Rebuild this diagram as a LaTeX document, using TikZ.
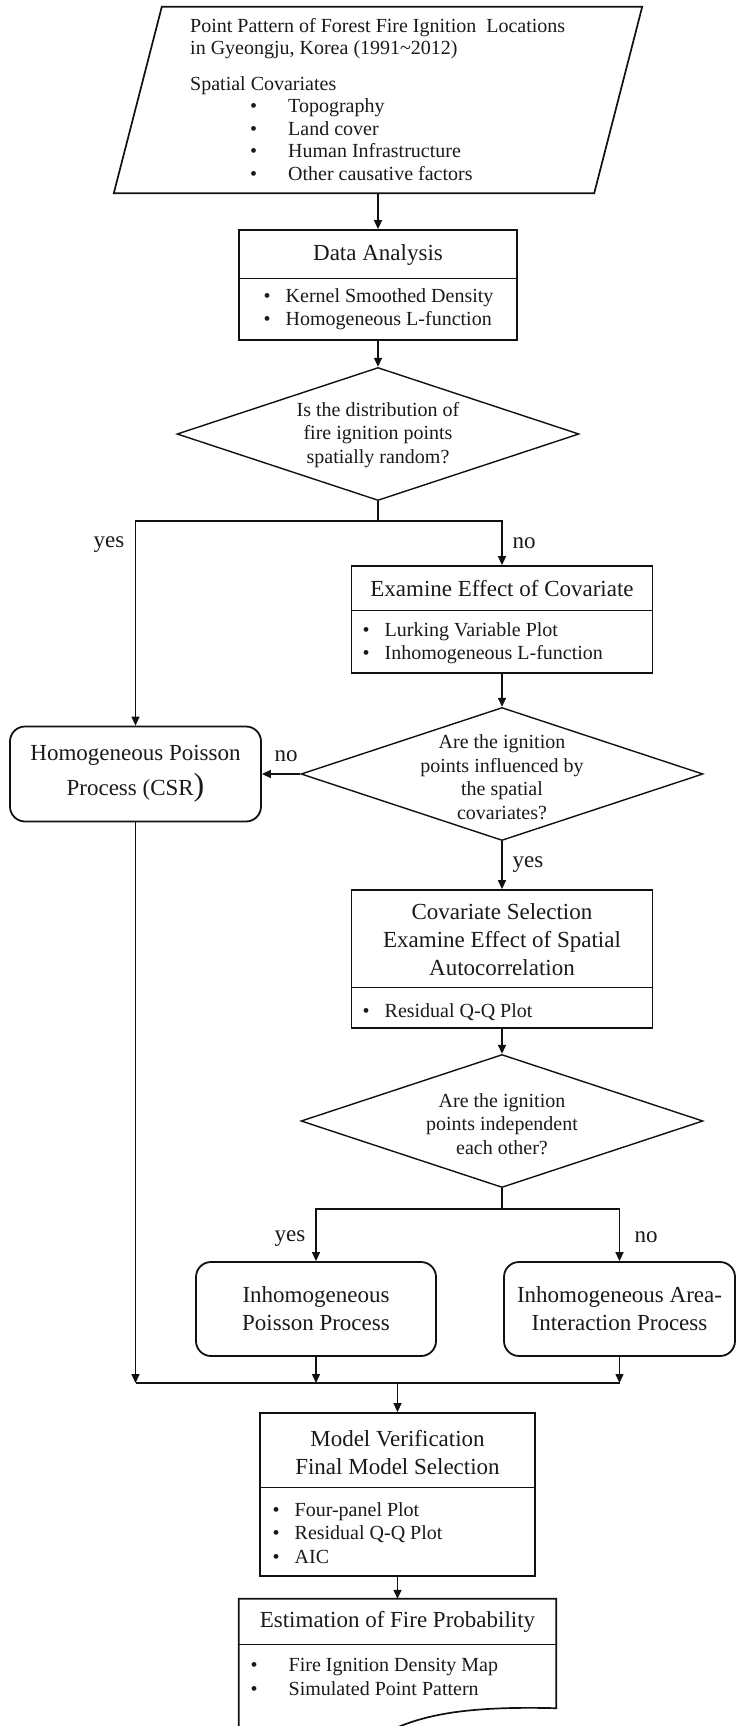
\documentclass[tikz,border=0pt]{standalone}
\usepackage{fontspec}
\setmainfont{Liberation Serif}
\usetikzlibrary{positioning,arrows.meta,shapes.geometric,calc}
\definecolor{fcline}{HTML}{111111}
\definecolor{fctext}{HTML}{1A1A1A}
\newcommand{\fcbig}{\fontsize{23}{28}\selectfont}
\newcommand{\fcwide}{\fontsize{23}{35}\selectfont}
\newcommand{\fcsmall}{\fontsize{20}{23.5}\selectfont}
\newcommand{\fcnote}{\fontsize{20}{22.5}\selectfont}
\newcommand{\dotitem}{\makebox[22pt][l]{\textbullet}}
\newcommand{\tabitem}{\makebox[38pt][l]{\textbullet}}
\tikzset{fcbox/.style={rectangle, draw=fcline, line width=1.8pt, inner sep=0pt}}
\tikzset{fcround/.style={fcbox, rounded corners=15pt, align=center, font=\fcbig, text=fctext}}
\tikzset{fcinput/.style={rectangle, inner sep=0pt}}
\tikzset{fcdecision/.style={diamond, draw=fcline, line width=1.4pt, inner sep=0pt, minimum width=402pt, minimum height=133pt}}
\tikzset{fctitle/.style={align=center, font=\fcbig, text=fctext, inner sep=0pt}}
\tikzset{fclist/.style={align=left, anchor=west, font=\fcsmall, text=fctext, inner sep=0pt}}
\tikzset{fcquery/.style={align=center, font=\fcsmall, text=fctext, inner sep=0pt}}
\tikzset{fcflow/.style={-{Triangle[length=9pt, width=8pt]}, draw=fcline, line width=1.4pt}}
\tikzset{fcjoin/.style={draw=fcline, line width=1.4pt}}
\tikzset{fcrule/.style={draw=fcline, line width=1.1pt}}
\tikzset{fcoutline/.style={draw=fcline, line width=1.7pt}}
\tikzset{fclabel/.style={font=\fcbig, text=fctext, inner sep=0pt}}

\begin{document}
\begin{tikzpicture}[x=1pt, y=-1pt]
  \useasboundingbox (0,0) rectangle (737,1726);
  \fill[white] (0,0) rectangle (737,1726);
  \clip (0,0) rectangle (737,1726);

  \node[fcinput, minimum width=480pt, minimum height=186pt] (input) at (378,100) {};
  \node[align=left, anchor=north west, font=\fcnote, text=fctext, inner sep=0pt] (inputtxt) at (190,18) {Point Pattern of Forest Fire Ignition\ \ Locations\\in Gyeongju, Korea (1991\textasciitilde2012)\\[13pt]Spatial Covariates\\\hspace*{60pt}\tabitem Topography\\\hspace*{60pt}\tabitem Land cover\\\hspace*{60pt}\tabitem Human Infrastructure\\\hspace*{60pt}\tabitem Other causative factors};

  \node[fcbox, minimum width=278pt, minimum height=110pt] (da) at (378,285) {};
  \node[fctitle] (datitle) at (378,255) {Data Analysis};
  \node[fclist] (dalist) at (263.5,309) {\dotitem Kernel Smoothed Density\\\dotitem Homogeneous L-function};

  \node[fcdecision] (q1) at (378,434) {};
  \node[fcquery] (q1txt) at (378,435) {Is the distribution of\\fire ignition points\\spatially random?};
  \coordinate (split1) at (378,521);

  \node[fcround, minimum width=251pt, minimum height=95pt, font=\fcwide] (hpp) at (135.5,774) {Homogeneous Poisson\\Process (CSR{\fontsize{32}{35}\selectfont )}};

  \node[fcbox, minimum width=301pt, minimum height=107pt] (exam) at (502,619.5) {};
  \node[fctitle] (examtitle) at (502,589) {Examine Effect of Covariate};
  \node[fclist] (examlist) at (362.5,643) {\dotitem Lurking Variable Plot\\\dotitem Inhomogeneous L-function};

  \node[fcdecision] (q2) at (502,774) {};
  \node[fcquery] (q2txt) at (502,777) {Are the ignition\\points influenced by\\the spatial\\covariates?};

  \node[fcbox, minimum width=301pt, minimum height=138pt] (cov) at (502,959) {};
  \node[fctitle] (covtitle) at (502,940) {Covariate Selection\\Examine Effect of Spatial\\Autocorrelation};
  \node[fclist] (covlist) at (362.5,1012) {\dotitem Residual Q-Q Plot};

  \node[fcdecision] (q3) at (502,1121) {};
  \node[fcquery] (q3txt) at (502,1124) {Are the ignition\\points independent\\each other?};
  \coordinate (split3) at (502,1209);

  \node[fcround, minimum width=240pt, minimum height=94pt] (ipp) at (316,1309) {Inhomogeneous\\Poisson Process};
  \node[fcround, minimum width=231pt, minimum height=94pt] (iaip) at (619.5,1309) {Inhomogeneous Area-\\Interaction Process};
  \coordinate (join) at (397.5,1383);

  \node[fcbox, minimum width=275pt, minimum height=163pt] (mv) at (397.5,1494.5) {};
  \node[fctitle] (mvtitle) at (397.5,1452) {Model Verification\\Final Model Selection};
  \node[fclist] (mvlist) at (272.5,1533) {\dotitem Four-panel Plot\\\dotitem Residual Q-Q Plot\\\dotitem AIC};

  \node[minimum width=317pt, minimum height=109pt, inner sep=0pt] (efp) at (397.5,1653.5) {};
  \node[fctitle] (efptitle) at (397.5,1622) {Estimation of Fire Probability};
  \node[fclist] (efplist) at (250.5,1677) {\tabitem Fire Ignition Density Map\\\tabitem Simulated Point Pattern};

  \draw[fcoutline] ($(input.south west)+(-24,0)$) -- ($(input.north west)+(24,0)$) -- ($(input.north east)+(24,0)$) -- ($(input.south east)+(-24,0)$) -- cycle;
  \draw[fcrule] ($(da.north west)+(0,49)$) -- ($(da.north east)+(0,49)$);
  \draw[fcrule] ($(exam.north west)+(0,45)$) -- ($(exam.north east)+(0,45)$);
  \draw[fcrule] ($(cov.north west)+(0,98)$) -- ($(cov.north east)+(0,98)$);
  \draw[fcrule] ($(mv.north west)+(0,75)$) -- ($(mv.north east)+(0,75)$);
  \draw[fcrule] ($(efp.north west)+(0,46)$) -- ($(efp.north east)+(0,46)$);
  \draw[fcoutline] ($(efp.south west)+(0,50)$) -- (efp.north west) -- (efp.north east) -- (efp.south east) .. controls (470,1706) and (430,1714) .. (398,1727) .. controls (350,1745) and (290,1760) .. ($(efp.south west)+(0,50)$);

  \draw[fcflow] (input) -- (da);
  \draw[fcflow] (da) -- (q1);
  \draw[fcjoin] (q1) -- (split1);
  \draw[fcflow] (split1) -| (hpp.north);
  \draw[fcflow] (split1) -| (exam.north);
  \draw[fcflow] (exam) -- (q2);
  \draw[fcflow] (q2.west) -- (hpp.east);
  \draw[fcflow] (q2) -- (cov);
  \draw[fcflow] (cov) -- (q3);
  \draw[fcjoin] (q3) -- (split3);
  \draw[fcflow] (split3) -| (ipp.north);
  \draw[fcflow] (split3) -| (iaip.north);
  \draw[fcflow] (hpp.south) -- (hpp.south |- join);
  \draw[fcflow] (ipp.south) -- (ipp.south |- join);
  \draw[fcflow] (iaip.south) -- (iaip.south |- join);
  \draw[fcjoin] (hpp.south |- join) -- (iaip.south |- join);
  \draw[fcflow] (join) -- (mv);
  \draw[fcflow] (mv) -- (efp);

  \node[fclabel] (yesq1) at (109,545) {yes};
  \node[fclabel] (noq1) at (524,543) {no};
  \node[fclabel] (noq2) at (286,756) {no};
  \node[fclabel] (yesq2) at (528,865) {yes};
  \node[fclabel] (yesq3) at (290,1239) {yes};
  \node[fclabel] (noq3) at (646,1237) {no};
\end{tikzpicture}
\end{document}
